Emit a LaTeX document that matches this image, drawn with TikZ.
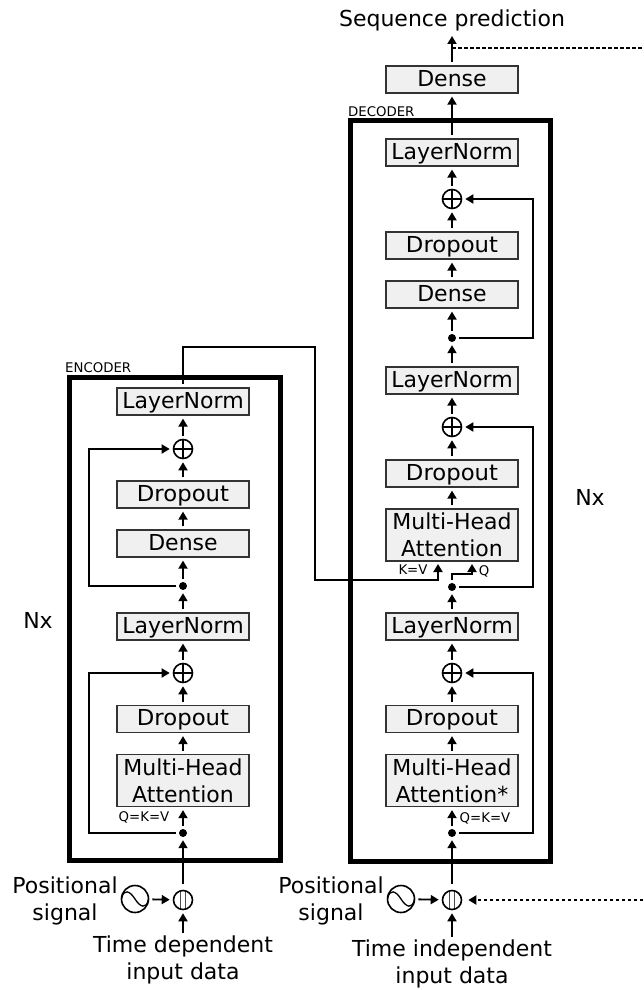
\documentclass[tikz,border=0pt]{standalone}
\usepackage{fontspec}
\setmainfont{DejaVu Sans}
\newfontfamily\stretchfont[FakeStretch=1.035]{DejaVu Sans}
\usetikzlibrary{positioning, arrows.meta}

\newcommand{\bigfont}{\fontsize{22}{27}\selectfont}
\newcommand{\smallfont}{\fontsize{13.3}{16}\selectfont}

\tikzset{
    blockbox/.style={draw=black!80, fill=black!6, line width=1.2pt, minimum width=132pt, minimum height=27pt, inner sep=0pt, font=\bigfont, text height=18pt, text depth=5pt},
    attnbox/.style={draw=black!80, fill=black!6, line width=1.2pt, minimum width=132pt, minimum height=52pt, inner sep=0pt, font=\bigfont, align=center},
    sumnode/.style={circle, draw, line width=1.6pt, minimum size=19pt, inner sep=0pt, path picture={
        \draw[line width=1.4pt] (path picture bounding box.north) -- (path picture bounding box.south) (path picture bounding box.west) -- (path picture bounding box.east);}},
    concatnode/.style={circle, draw, line width=1.6pt, minimum size=19pt, inner sep=0pt, path picture={
        \draw[line width=0.9pt, black!70] ([xshift=-2.8pt]path picture bounding box.north) -- ([xshift=-2.8pt]path picture bounding box.south) ([xshift=2.8pt]path picture bounding box.north) -- ([xshift=2.8pt]path picture bounding box.south);}},
    sinenode/.style={circle, draw, line width=1.6pt, minimum size=27pt, inner sep=0pt, path picture={
        \draw[line width=1.3pt] (path picture bounding box.west) .. controls +(2pt,11pt) and +(-5pt,8pt) .. (path picture bounding box.center) .. controls +(5pt,-8pt) and +(-2pt,-11pt) .. (path picture bounding box.east);}},
    joindot/.style={circle, fill, minimum size=8pt, inner sep=0pt},
    frame/.style={draw, line width=5pt, line cap=rect},
    link/.style={line width=1.8pt, -{Triangle[length=8pt, width=9pt]}, shorten >=3pt, shorten <=3pt},
    dotlink/.style={line width=2pt, dash pattern=on 3.5pt off 2.5pt},
    caption/.style={font=\bigfont, align=center, inner sep=0pt},
    tag/.style={font=\smallfont, inner sep=0pt},
}

\begin{document}
\begin{tikzpicture}[x=1pt, y=-1pt]
    \useasboundingbox (0,0) rectangle (643,990);

    % Frames round the two stacks
    \draw[frame] (69,377) rectangle (280.5,860);
    \draw[frame] (350.5,120.5) rectangle (550.5,861);
    \node[tag, anchor=west] (encname) at (65,368) {ENCODER};
    \node[tag, anchor=west] (decname) at (348,112) {DECODER};
    \node[caption] (nxE) at (38,620) {Nx};
    \node[caption] (nxD) at (590,497) {Nx};

    % Encoder blocks
    \node[attnbox] (maE) at (183,780.5) {Multi-Head\\Attention};
    \foreach \nm/\yy/\tx in {dropEa/719/{\stretchfont Dropout}, normEa/626.5/LayerNorm, denseE/543.5/Dense, dropEb/494.5/{\stretchfont Dropout}, normEb/401.5/LayerNorm} {
        \node[blockbox] (\nm) at (183,\yy) {\tx};
    }
    \node[sumnode] (sumEa) at (183,673) {};
    \node[sumnode] (sumEb) at (183,449) {};
    \node[joindot] (dotEa) at (183,833) {};
    \node[joindot] (dotEb) at (183,586) {};
    \node[concatnode] (catE) at (183,900) {};
    \node[sinenode] (sineE) at (135,899) {};

    % Decoder blocks
    \node[attnbox] (maDa) at (452,780.5) {Multi-Head\\Attention*};
    \node[attnbox] (maDb) at (452,535) {Multi-Head\\Attention};
    \foreach \nm/\yy/\tx in {dropDa/719/{\stretchfont Dropout}, normDa/626.5/LayerNorm, dropDb/473.5/{\stretchfont Dropout}, normDb/380.5/LayerNorm, denseDa/294.5/Dense, dropDc/245.5/{\stretchfont Dropout}, normDc/152.5/LayerNorm, denseDb/79.5/Dense} {
        \node[blockbox] (\nm) at (452,\yy) {\tx};
    }
    \node[sumnode] (sumDa) at (452,673) {};
    \node[sumnode] (sumDb) at (452,427) {};
    \node[sumnode] (sumDc) at (452,199) {};
    \node[joindot] (dotDa) at (452,833) {};
    \node[joindot] (dotDb) at (452,587) {};
    \node[joindot] (dotDc) at (452,338) {};
    \node[concatnode] (catD) at (452,900) {};
    \node[sinenode] (sineD) at (401,899) {};

    % Outer labels
    \node[caption] (outtext) at (452,20) {Sequence prediction};
    \node[caption] (posE) at (65,901) {Positional\\signal};
    \node[caption] (posD) at (331,901) {Positional\\signal};
    \node[caption] (inE) at (183,960) {Time dependent\\input data};
    \node[caption] (inD) at (452,964) {Time independent\\input data};
    \node[tag] (tagE) at (144,817) {Q=K=V};
    \node[tag] (tagD) at (485,818) {Q=K=V};
    \node[tag] (tagK) at (413,570) {K=V};
    \node[tag] (tagQ) at (484,571) {Q};

    % Free ends and attention inputs
    \coordinate (topout) at (452,33);
    \coordinate (topside) at (643,48);
    \coordinate (topjoin) at (452,48);
    \coordinate (botside) at (643,900);
    \coordinate (kvD) at (438,561);
    \coordinate (qD) at (472,561);
    \coordinate (crossa) at (315,347);
    \coordinate (crossb) at (315,580);

    % Straight runs up each stack
    \foreach \a/\b in {dotEa/maE, maE/dropEa, dropEa/sumEa, sumEa/normEa, normEa/dotEb, dotEb/denseE, denseE/dropEb, dropEb/sumEb, sumEb/normEb, dotDa/maDa, maDa/dropDa, dropDa/sumDa, sumDa/normDa, normDa/dotDb, maDb/dropDb, dropDb/sumDb, sumDb/normDb, normDb/dotDc, dotDc/denseDa, denseDa/dropDc, dropDc/sumDc, sumDc/normDc, normDc/denseDb, denseDb/topout} {
        \draw[link] (\a) -- (\b);
    }
    \draw[link, shorten <=6pt] (catE) -- (dotEa);
    \draw[link, shorten <=6pt] (catD) -- (dotDa);
    \draw[link] (sineE) -- (catE);
    \draw[link] (sineD) -- (catD);
    \draw[link] (inE.north) -- (catE);
    \draw[link] (inD.north) -- (catD);

    % Residual paths
    \draw[link] (dotEa.west) -- ++(-90,0) |- (sumEa);
    \draw[link] (dotEb.west) -- ++(-90,0) |- (sumEb);
    \draw[link] (dotDa.east) -- ++(77,0) |- (sumDa);
    \draw[link] (dotDb.east) -- ++(77,0) |- (sumDb);
    \draw[link] (dotDc.east) -- ++(77,0) |- (sumDc);

    % Encoder output and query into the second attention
    \draw[link] (normEb.north) |- (crossa) -- (crossb) -| (kvD);
    \draw[link] (dotDb.north) -- ++(0,-9) -| (qD);

    % Dotted feedback
    \draw[dotlink] (topjoin) -- (topside);
    \draw[dotlink, -{Triangle[length=8pt, width=9pt]}, shorten >=6pt] (botside) -- (catD);
\end{tikzpicture}
\end{document}
